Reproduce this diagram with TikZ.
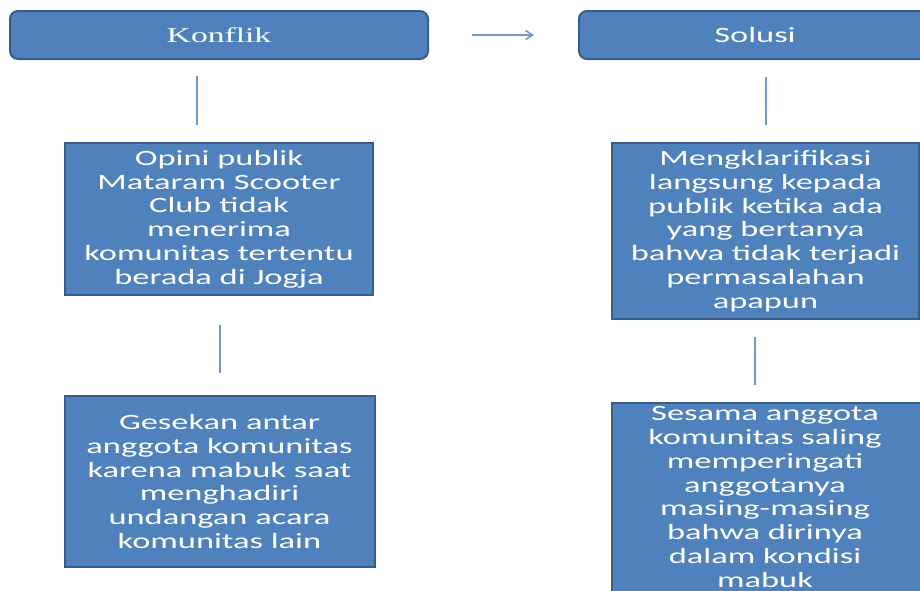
\documentclass[tikz,border=0pt]{standalone}
\usepackage{fontspec}
\usepackage{xcolor}
\definecolor{isi}{RGB}{79,129,189}
\definecolor{tepi}{RGB}{56,93,138}
\definecolor{garisbiru}{RGB}{111,151,207}
\newfontfamily\isifont[FakeStretch=1.58]{Carlito}
\newfontfamily\judulfont[FakeStretch=1.6]{Liberation Serif}
\usepackage{tikz}
\usetikzlibrary{arrows.meta}

\begin{document}
\begin{tikzpicture}[x=0.5pt,y=-0.5pt,
    teks/.style={text=white, align=center, inner sep=0pt,
      font=\isifont\fontsize{10.9}{11.9}\selectfont},
    kotak/.style={teks, rectangle, fill=isi, draw=tepi, line width=1pt},
    judul/.style={kotak, rounded corners=4pt, minimum height=24pt},
    garis/.style={draw=garisbiru, line width=0.75pt},
    panah/.style={garis, -{Straight Barb[length=3.5pt,width=4.5pt]}}]
    \useasboundingbox (0,0) rectangle (920,590);
    \clip (0,0) rectangle (920,590);

    \node [judul, minimum width=209pt, font=\judulfont\fontsize{10.5}{12}\selectfont] (konflik) at (219,35) {Konflik};
    \node [judul, minimum width=176pt] (solusi) at (755,35) {Solusi};
    \draw [panah, shorten <=21.5pt, shorten >=22pt] (konflik.east) -- (solusi.west);

    \node [kotak, minimum width=154pt, minimum height=76pt] (opini) at (219,219)
      {Opini publik\\Mataram Scooter\\Club tidak\\menerima\\komunitas tertentu\\berada di Jogja};
    \node [kotak, minimum width=155pt, minimum height=85.5pt] (gesekan) at (219.5,481.5)
      {Gesekan antar\\anggota komunitas\\karena mabuk saat\\menghadiri\\undangan acara\\komunitas lain};
    \node [kotak, minimum width=153.5pt, minimum height=88pt] (klarifikasi) at (765.5,231)
      {Mengklarifikasi\\langsung kepada\\publik ketika ada\\yang bertanya\\bahwa tidak terjadi\\permasalahan\\apapun};
    \node [kotak, minimum width=158pt, minimum height=100pt,
      label={[teks, xshift=-2.5pt, yshift=3pt]center:{Sesama anggota\\komunitas saling\\memperingati\\anggotanya\\masing-masing\\bahwa dirinya\\dalam kondisi\\mabuk}}]
      (saling) at (770,503) {};

    \coordinate (k1) at (197,76);
    \coordinate (k2) at (197,125);
    \coordinate (k3) at (220,325);
    \coordinate (k4) at (220,373);
    \coordinate (s1) at (766,77);
    \coordinate (s2) at (766,125);
    \coordinate (s3) at (755,337);
    \coordinate (s4) at (755,385);
    \draw [garis] (k1) -- (k2);
    \draw [garis] (k3) -- (k4);
    \draw [garis] (s1) -- (s2);
    \draw [garis] (s3) -- (s4);
\end{tikzpicture}
\end{document}
